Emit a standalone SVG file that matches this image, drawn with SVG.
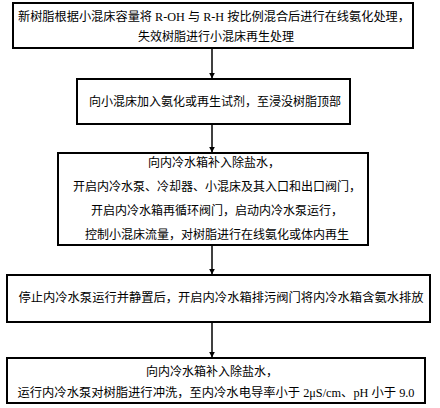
<svg xmlns="http://www.w3.org/2000/svg" width="440" height="408" viewBox="0 0 440 408">
<defs>
<style>
.box{fill:#fff;stroke:#000;stroke-width:2}
.t{font-family:"Liberation Serif","Noto Sans CJK SC",serif;font-size:12px;fill:#000;text-anchor:middle}
.c{stroke:#000;stroke-width:1.5;fill:none}
</style>
<marker id="ah" viewBox="0 0 10 10" refX="9" refY="5" markerWidth="6" markerHeight="6" orient="auto" markerUnits="userSpaceOnUse">
<path d="M0,0 L10,5 L0,10 z" fill="#000"/>
</marker>
</defs>
<rect width="440" height="408" fill="#fff"/>
<g id="connectors">
<line class="c" x1="212" y1="49" x2="212" y2="78" marker-end="url(#ah)"/>
<line class="c" x1="212" y1="125" x2="212" y2="152" marker-end="url(#ah)"/>
<line class="c" x1="212" y1="246" x2="212" y2="274" marker-end="url(#ah)"/>
<line class="c" x1="212" y1="323" x2="212" y2="357" marker-end="url(#ah)"/>
</g>
<g id="n1">
<rect class="box" x="13" y="3" width="400" height="45"/>
<text class="t" x="214" y="21" textLength="392" lengthAdjust="spacingAndGlyphs">新树脂根据小混床容量将 R-OH 与 R-H 按比例混合后进行在线氨化处理，</text>
<text class="t" x="216" y="41">失效树脂进行小混床再生处理</text>
</g>
<g id="n2">
<rect class="box" x="77" y="79" width="273" height="45"/>
<text class="t" x="215" y="106">向小混床加入氨化或再生试剂，至浸没树脂顶部</text>
</g>
<g id="n3">
<rect class="box" x="58" y="153" width="310" height="92"/>
<text class="t" x="214" y="167">向内冷水箱补入除盐水，</text>
<text class="t" x="217" y="191">开启内冷水泵、冷却器、小混床及其入口和出口阀门，</text>
<text class="t" x="217" y="215">开启内冷水箱再循环阀门，启动内冷水泵运行，</text>
<text class="t" x="217" y="239">控制小混床流量，对树脂进行在线氨化或体内再生</text>
</g>
<g id="n4">
<rect class="box" x="7" y="275" width="423" height="47"/>
<text class="t" x="221" y="302" textLength="405" lengthAdjust="spacingAndGlyphs">停止内冷水泵运行并静置后，开启内冷水箱排污阀门将内冷水箱含氨水排放</text>
</g>
<g id="n5">
<rect class="box" x="7" y="358" width="418" height="45"/>
<text class="t" x="212" y="376">向内冷水箱补入除盐水，</text>
<text class="t" x="216" y="397" textLength="397" lengthAdjust="spacingAndGlyphs">运行内冷水泵对树脂进行冲洗，至内冷水电导率小于 2μS/cm、pH 小于 9.0</text>
</g>
</svg>
